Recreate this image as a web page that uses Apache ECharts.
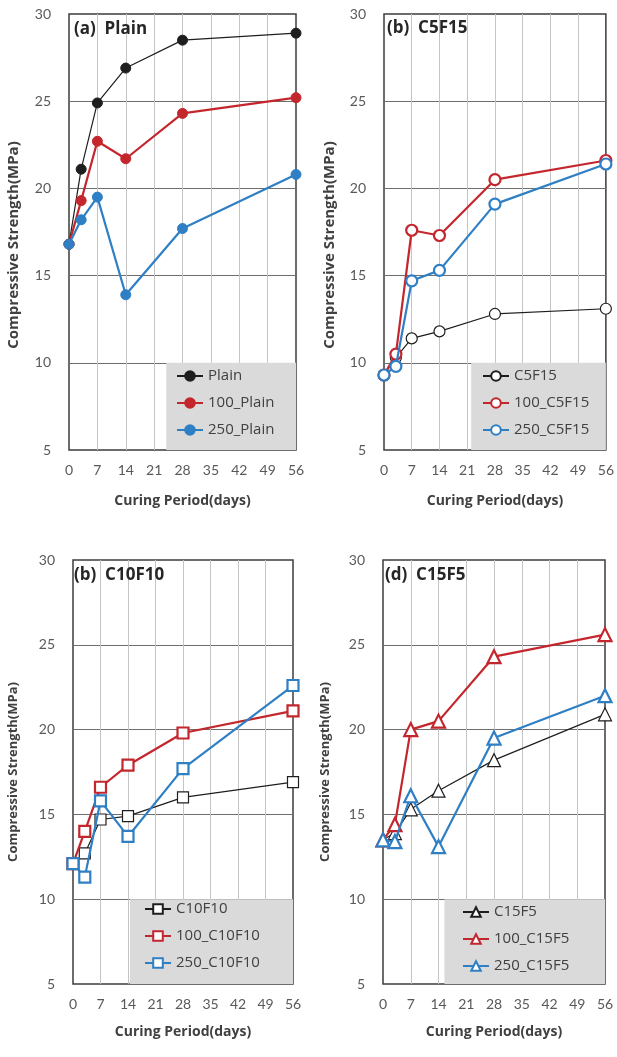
<!DOCTYPE html>
<html><head><meta charset="utf-8">
<script src="https://cdn.jsdelivr.net/npm/echarts@6/dist/echarts.min.js"></script>
<style>html,body{margin:0;padding:0;background:#fff}#c{width:617px;height:1057px}</style>
</head><body><div id="c"></div>
<script>
// ---- data ----
const days = [0, 3, 7, 14, 28, 56];
const xTickStep = 7;
const yTickStep = 5;
const titles = ['(a)  Plain', '(b)  C5F15', '(b)  C10F10', '(d)  C15F5'];
const xName = 'Curing Period(days)';
const yName = 'Compressive Strength(MPa)';

const namesA = ['Plain', '100_Plain', '250_Plain'];
const plainA = [16.8, 21.1, 24.9, 26.9, 28.5, 28.9];
const plain100 = [16.8, 19.3, 22.7, 21.7, 24.3, 25.2];
const plain250 = [16.8, 18.2, 19.5, 13.9, 17.7, 20.8];

const namesB = ['C5F15', '100_C5F15', '250_C5F15'];
const c5f15 = [9.3, 10.3, 11.4, 11.8, 12.8, 13.1];
const c5f15_100 = [9.3, 10.5, 17.6, 17.3, 20.5, 21.6];
const c5f15_250 = [9.3, 9.8, 14.7, 15.3, 19.1, 21.4];

const namesC = ['C10F10', '100_C10F10', '250_C10F10'];
const c10f10 = [12.1, 12.7, 14.7, 14.9, 16.0, 16.9];
const c10f10_100 = [12.1, 14.0, 16.6, 17.9, 19.8, 21.1];
const c10f10_250 = [12.1, 11.3, 15.8, 13.7, 17.7, 22.6];

const namesD = ['C15F5', '100_C15F5', '250_C15F5'];
const c15f5 = [13.5, 13.9, 15.3, 16.4, 18.2, 20.9];
const c15f5_100 = [13.5, 14.4, 20.0, 20.5, 24.3, 25.6];
const c15f5_250 = [13.5, 13.4, 16.1, 13.1, 19.5, 22.0];

// ---- layout / style ----
const panels = [
  {grid:{left:69, top:14, width:227, height:436}, names:namesA, vals:[plainA, plain100, plain250], symbol:'circle', filled:true, boxFrom:24,
   title:{left:74, top:21}, legend:{left:176, top:368}, yGap:48, xGap:44, yFont:15, yPad:[0,26,0,0]},
  {grid:{left:384, top:14, width:222, height:436}, names:namesB, vals:[c5f15, c5f15_100, c5f15_250], symbol:'circle', filled:false, boxFrom:22,
   title:{left:387, top:20}, legend:{left:482, top:368}, yGap:47, xGap:44, yFont:15, yPad:[0,26,0,0]},
  {grid:{left:73, top:560, width:220, height:424}, names:namesC, vals:[c10f10, c10f10_100, c10f10_250], symbol:'rect', filled:false, boxFrom:14.5,
   title:{left:74, top:567}, legend:{left:144, top:901}, yGap:53, xGap:41, yFont:13, yPad:[0,0,0,0]},
  {grid:{left:383, top:560, width:222, height:424}, names:namesD, vals:[c15f5, c15f5_100, c15f5_250], symbol:'triangle', filled:false, boxFrom:15.5,
   title:{left:385, top:567}, legend:{left:462, top:904}, yGap:51, xGap:41, yFont:13, yPad:[0,0,0,0]}
];
const colors = ['#1e1e1e', '#c4262d', '#2f7fc4'];
const font = '"Open Sans", Lato, sans-serif';
const tickFont = 'Lato, "Open Sans", sans-serif';

const option = {
  animation: false,
  backgroundColor: '#fff',
  title: [], grid: [], xAxis: [], yAxis: [], legend: [], series: []
};

panels.forEach((p, i) => {
  option.grid.push(Object.assign({show:true, borderColor:'#3c3c3c', borderWidth:1.5, backgroundColor:'transparent'}, p.grid));
  option.title.push({text: titles[i], left: p.title.left, top: p.title.top, padding: 0,
    textStyle:{fontFamily:font, fontSize:17, fontWeight:'bold', color:'#262626'}});
  option.xAxis.push({type:'value', gridIndex:i, min:0, max:56, interval:xTickStep,
    axisLine:{show:false}, axisTick:{show:false},
    axisLabel:{fontFamily:tickFont, fontSize:14, color:'#595959', margin:13},
    splitLine:{show:true, showMinLine:false, showMaxLine:false, lineStyle:{color:'#c4c4c4', width:1}},
    name:xName, nameLocation:'middle', nameGap:p.xGap,
    nameTextStyle:{fontFamily:font, fontSize:14, fontWeight:'bold', color:'#404040'}});
  option.yAxis.push({type:'value', gridIndex:i, min:5, max:30, interval:yTickStep,
    axisLine:{show:false}, axisTick:{show:false},
    axisLabel:{fontFamily:tickFont, fontSize:14, color:'#595959', margin:18},
    splitLine:{show:true, showMinLine:false, showMaxLine:false, lineStyle:{color:'#6e6e6e', width:1}},
    name:yName, nameLocation:'middle', nameGap:p.yGap,
    nameTextStyle:{fontFamily:font, fontSize:p.yFont, fontWeight:'bold', color:'#404040', padding:p.yPad}});
  option.legend.push({data:p.names, orient:'vertical', left:p.legend.left, top:p.legend.top, padding:0,
    itemWidth:26, itemHeight:12, itemGap:11, selectedMode:false,
    textStyle:{fontFamily:font, fontSize:15, lineHeight:16, color:'#404040'}});
  p.names.forEach((nm, k) => {
    const isBlack = k === 0;
    const s = {
      type:'line', name:nm, xAxisIndex:i, yAxisIndex:i,
      data: days.map((d, j) => [d, p.vals[k][j]]),
      symbol: p.symbol,
      symbolSize: p.filled ? 10 : (p.symbol === 'triangle' ? 13 : 11),
      lineStyle:{color:colors[k], width: isBlack ? 1.2 : 2.2},
      itemStyle: p.filled ? {color:colors[k], borderColor:colors[k], borderWidth:1}
                          : {color:'#ffffff', borderColor:colors[k], borderWidth: isBlack ? 1.2 : 2.2},
      z: 3 + k,
      emphasis:{disabled:true}
    };
    if (k === 0) {
      s.markArea = {silent:true, itemStyle:{color:'#dadada', opacity:1},
        data:[[{xAxis:p.boxFrom, yAxis:5}, {xAxis:56, yAxis:10}]]};
    }
    option.series.push(s);
  });
});

const chart = echarts.init(document.getElementById('c'), null, {renderer:'canvas'});
chart.setOption(option);
</script>
</body></html>
